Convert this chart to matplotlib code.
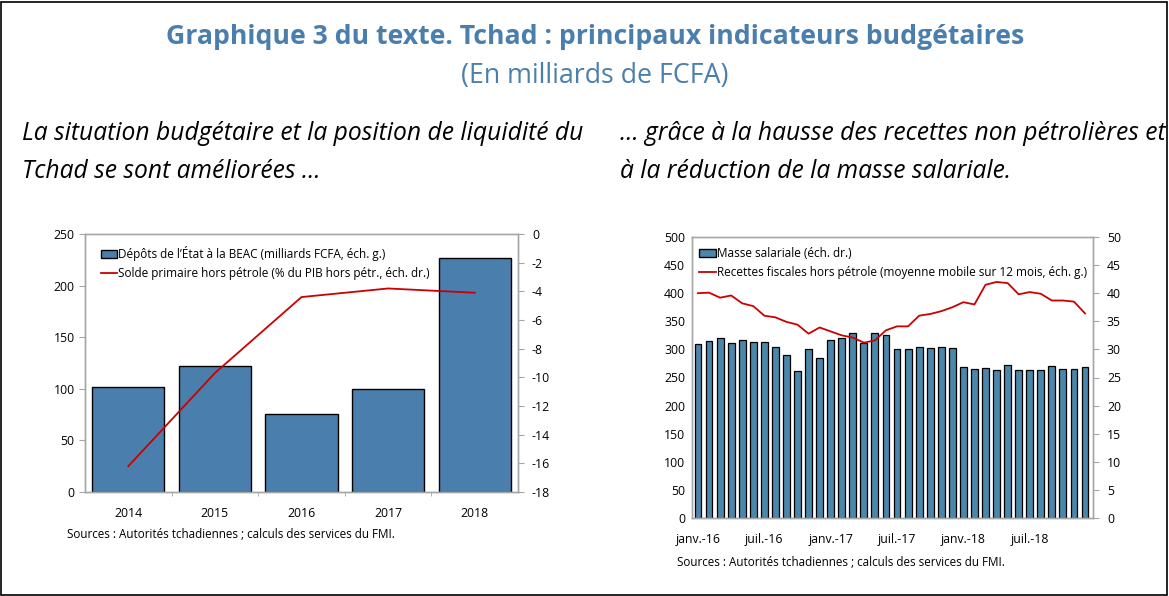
import matplotlib
matplotlib.use("Agg")
import matplotlib.pyplot as plt
from matplotlib.patches import Rectangle, Patch
from matplotlib.lines import Line2D

plt.rcParams['font.family'] = ['Open Sans', 'DejaVu Sans']

# ---- Data: left chart ----
years = ["2014", "2015", "2016", "2017", "2018"]
depots_beac = [102, 122, 76, 100, 227]
solde_primaire = [-16.2, -9.7, -4.4, -3.8, -4.1]

# ---- Data: right chart ----
month_labels = ["janv.-16", "juil.-16", "janv.-17", "juil.-17", "janv.-18", "juil.-18"]
masse_salariale = [31.0, 31.5, 32.0, 31.2, 31.7, 31.4, 31.3, 30.5, 29.0, 26.2, 30.0, 28.4,
                   31.6, 32.1, 32.9, 31.2, 32.9, 32.5, 30.0, 30.0, 30.5, 30.3, 30.4, 30.2,
                   26.8, 26.6, 26.7, 26.3, 27.3, 26.4, 26.3, 26.3, 27.0, 26.6, 26.5, 26.9]
recettes_fiscales = [400, 401, 392, 396, 382, 377, 360, 357, 349, 344, 328, 339,
                     332, 325, 321, 312, 316, 334, 341, 341, 360, 363, 368, 375,
                     384, 380, 415, 420, 418, 398, 402, 399, 387, 387, 385, 364]

W, H = 1169, 596
fig = plt.figure(figsize=(W / 100, H / 100), dpi=100)

blue_title = '#4a7ead'
bar_left = '#4a7fad'
bar_right = '#4a87aa'
red = '#cc0000'
spine_c = '#a6a6a6'

# border
fig.patches.append(Rectangle((1 / W, 1 / H), 1 - 3 / W, 1 - 3 / H, transform=fig.transFigure,
                             fill=False, edgecolor='black', linewidth=1.2))

fig.text(595 / W, 1 - 37 / H, "Graphique 3 du texte. Tchad : principaux indicateurs budgétaires",
         ha='center', va='center', fontsize=19.2, fontweight='bold', color=blue_title)
fig.text(595 / W, 1 - 76 / H, "(En milliards de FCFA)", ha='center', va='center',
         fontsize=19.3, color=blue_title)

it_fs = 17.7
fig.text(22 / W, 1 - 133 / H, "La situation budgétaire et la position de liquidité du",
         ha='left', va='center', fontsize=it_fs, style='italic', color='black')
fig.text(22 / W, 1 - 172 / H, "Tchad se sont améliorées …",
         ha='left', va='center', fontsize=it_fs, style='italic', color='black')
fig.text(620 / W, 1 - 133 / H, "… grâce à la hausse des recettes non pétrolières et",
         ha='left', va='center', fontsize=it_fs, style='italic', color='black')
fig.text(620 / W, 1 - 172 / H, "à la réduction de la masse salariale.",
         ha='left', va='center', fontsize=it_fs, style='italic', color='black')

tick_fs = 8.8
leg_fs = 8.5
src_fs = 8.4

def style_axes(a):
    for s in a.spines.values():
        s.set_color(spine_c)
        s.set_linewidth(1.0)
    a.tick_params(axis='both', labelsize=tick_fs, colors='black', length=4, width=0.8,
                  direction='out')
    a.tick_params(axis='both', color=spine_c)

# ---- Left chart ----
axL = fig.add_axes([85 / W, 1 - 492 / H, (518 - 85) / W, (492 - 234) / H])
xs = list(range(len(years)))
axL.bar(xs, depots_beac, width=0.835, color=bar_left, edgecolor='black', linewidth=1.0, zorder=2)
axL.set_xlim(-0.5, len(years) - 0.5)
axL.set_ylim(0, 250)
axL.set_yticks(range(0, 251, 50))
axL.set_xticks(xs)
axL.set_xticklabels(years)
axL.set_xticks([x + 0.5 for x in xs[:-1]], minor=True)
style_axes(axL)
axL.tick_params(axis='x', which='major', length=0, pad=11)
axL.tick_params(axis='x', which='minor', length=3, color=spine_c)

axL2 = axL.twinx()
axL2.plot(xs, solde_primaire, color=red, linewidth=1.3, zorder=3)
axL2.set_ylim(-18, 0)
axL2.set_yticks(range(-18, 1, 2))
axL2.set_yticklabels([str(v) for v in range(-18, 1, 2)])
style_axes(axL2)
axL2.tick_params(axis='y', pad=6)

hL = [Patch(facecolor=bar_left, edgecolor='black', linewidth=1.0),
      Line2D([0], [0], color=red, linewidth=1.3)]
axL2.legend(hL, ["Dépôts de l’État à la BEAC (milliards FCFA, éch. g.)",
                 "Solde primaire hors pétrole (% du PIB hors pétr., éch. dr.)"],
            loc='upper left', bbox_to_anchor=(0.02, 0.98), frameon=False, fontsize=leg_fs,
            handlelength=1.4, handletextpad=0.1, borderaxespad=0.2, labelspacing=0.5)

fig.text(67 / W, 1 - 534 / H, "Sources : Autorités tchadiennes ; calculs des services du FMI.",
         ha='left', va='center', fontsize=src_fs)

# ---- Right chart ----
axR = fig.add_axes([692 / W, 1 - 518 / H, (1093 - 692) / W, (518 - 237) / H])
axR2 = axR.twinx()
mx = list(range(len(masse_salariale)))
axR2.bar(mx, masse_salariale, width=0.62, color=bar_right, edgecolor='black', linewidth=0.9)
axR2.set_ylim(0, 50)
axR2.set_yticks(range(0, 51, 5))
axR.plot(mx, recettes_fiscales, color=red, linewidth=1.3)
axR.set_ylim(0, 500)
axR.set_yticks(range(0, 501, 50))
axR.set_xlim(-0.54, len(mx) - 1 + 0.72)
axR.set_xticks([0, 6, 12, 18, 24, 30])
axR.set_xticklabels(month_labels)
axR.set_zorder(axR2.get_zorder() + 1)
axR.patch.set_visible(False)
style_axes(axR)
style_axes(axR2)
axR.tick_params(axis='x', length=0, pad=11)
axR.tick_params(axis='y', length=0, pad=5)
axR2.tick_params(axis='y', pad=6)

hR = [Patch(facecolor=bar_right, edgecolor='black', linewidth=1.0),
      Line2D([0], [0], color=red, linewidth=1.3)]
axR.legend(hR, ["Masse salariale (éch. dr.)",
                "Recettes fiscales hors pétrole (moyenne mobile sur 12 mois, éch. g.)"],
           loc='upper left', bbox_to_anchor=(0.0, 0.99), frameon=False, fontsize=leg_fs,
           handlelength=1.4, handletextpad=0.1, borderaxespad=0.2, labelspacing=0.5)

fig.text(677 / W, 1 - 563 / H, "Sources : Autorités tchadiennes ; calculs des services du FMI.",
         ha='left', va='center', fontsize=src_fs)

fig.savefig("out.png", dpi=100)
